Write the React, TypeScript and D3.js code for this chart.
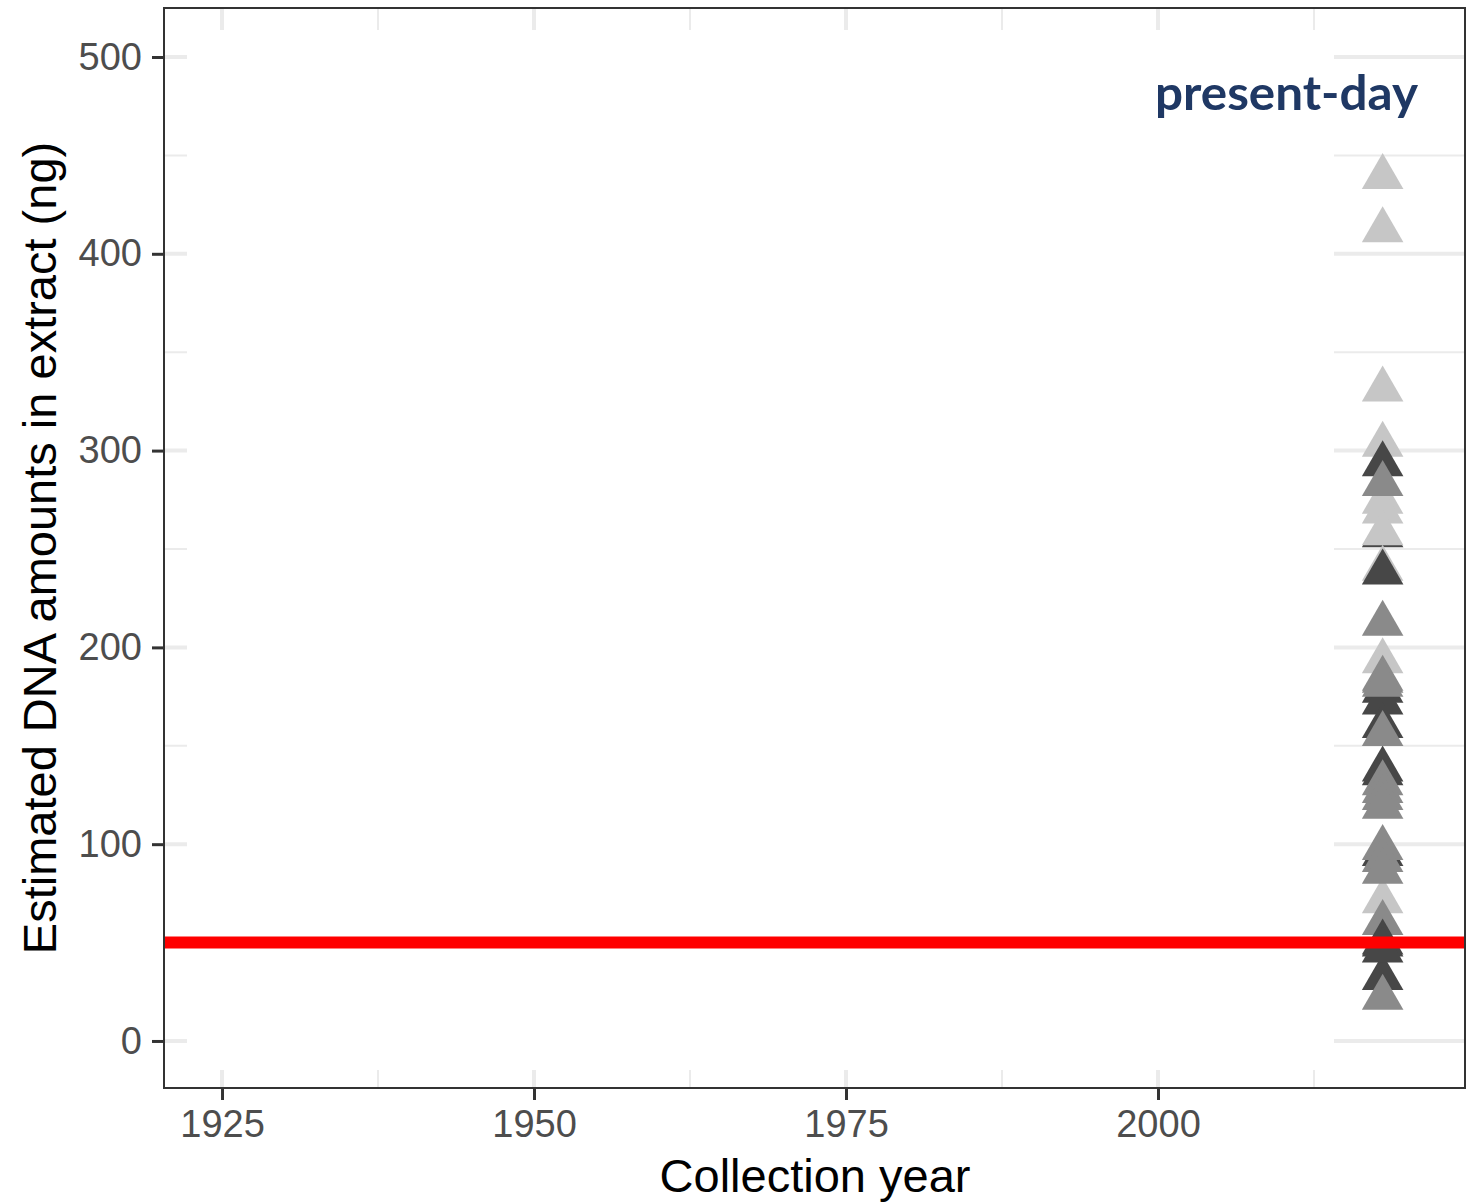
import { useEffect, useRef } from "react";
import * as d3 from "d3";

// DNA estimates (ng) for the present-day samples, listed in drawing order
const dnaAmounts = [
  257, 439, 412, 331, 303, 274, 269, 258, 240, 193, 71,
  293, 238, 178, 172, 160, 138, 136, 95, 32,
  283, 212, 184, 183, 181, 156, 131, 127, 123.5, 119, 98, 92, 86, 60, 22,
  50, 49, 46,
];
const sampleGroup = [
  "dark", "light", "light", "light", "light", "light", "light", "light", "light", "light", "light",
  "dark", "dark", "dark", "dark", "dark", "dark", "dark", "dark", "dark",
  "medium", "medium", "medium", "medium", "medium", "medium", "medium", "medium", "medium", "medium", "medium", "medium", "medium", "medium", "medium",
  "dark", "dark", "dark",
];
const collectionYear = 2018;
const thresholdNg = 50;
const xTicks = [1925, 1950, 1975, 2000];
const xMinorTicks = [1937.5, 1962.5, 1987.5, 2012.5];
const yTicks = [0, 100, 200, 300, 400, 500];
const yMinorTicks = [50, 150, 250, 350, 450];

const groupColors = { light: "#c6c6c6", medium: "#8a8a8a", dark: "#474747" };

const App = () => {
  const ref = useRef(null);

  useEffect(() => {
    const svg = d3.select(ref.current);
    svg.selectAll("*").remove();

    const left = 164, right = 1465, top = 8, bottom = 1088;
    const x = d3.scaleLinear().domain([1920.35, 2024.6]).range([left, right]);
    const y = d3.scaleLinear().domain([-23.9, 524.9]).range([bottom, top]);

    svg.append("rect")
      .attr("x", left).attr("y", top)
      .attr("width", right - left).attr("height", bottom - top)
      .attr("fill", "white");

    // grid
    const grid = svg.append("g");
    grid.selectAll("line.ymin").data(yMinorTicks).enter().append("line")
      .attr("x1", left).attr("x2", right)
      .attr("y1", (d) => y(d)).attr("y2", (d) => y(d))
      .attr("stroke", "#ebebeb").attr("stroke-width", 2);
    grid.selectAll("line.ymaj").data(yTicks).enter().append("line")
      .attr("x1", left).attr("x2", right)
      .attr("y1", (d) => y(d)).attr("y2", (d) => y(d))
      .attr("stroke", "#ebebeb").attr("stroke-width", 4);
    grid.selectAll("line.xmin").data(xMinorTicks).enter().append("line")
      .attr("y1", top).attr("y2", bottom)
      .attr("x1", (d) => x(d)).attr("x2", (d) => x(d))
      .attr("stroke", "#ebebeb").attr("stroke-width", 2);
    grid.selectAll("line.xmaj").data(xTicks).enter().append("line")
      .attr("y1", top).attr("y2", bottom)
      .attr("x1", (d) => x(d)).attr("x2", (d) => x(d))
      .attr("stroke", "#ebebeb").attr("stroke-width", 4);

    // the middle of the panel is blanked out
    svg.append("rect")
      .attr("x", 187).attr("y", 30)
      .attr("width", 1334 - 187).attr("height", 1070 - 30)
      .attr("fill", "white");

    // points
    const tri = d3.symbol(d3.symbolTriangle, 748);
    svg.append("g")
      .selectAll("path")
      .data(dnaAmounts)
      .enter()
      .append("path")
        .attr("d", tri)
        .attr("transform", (d) => `translate(${x(collectionYear)},${y(d)})`)
        .attr("fill", (d, i) => groupColors[sampleGroup[i]]);

    // threshold line
    svg.append("line")
      .attr("x1", left).attr("x2", right)
      .attr("y1", y(thresholdNg)).attr("y2", y(thresholdNg))
      .attr("stroke", "#ff0000").attr("stroke-width", 12);

    // panel border
    svg.append("rect")
      .attr("x", left).attr("y", top)
      .attr("width", right - left).attr("height", bottom - top)
      .attr("fill", "none").attr("stroke", "#333333").attr("stroke-width", 2);

    const fontFamily = "'Liberation Sans', Arial, sans-serif";

    const yAxis = svg.append("g")
      .attr("transform", `translate(${left},0)`)
      .call(d3.axisLeft(y).tickValues(yTicks).tickSize(12).tickPadding(10));
    const xAxis = svg.append("g")
      .attr("transform", `translate(0,${bottom})`)
      .call(d3.axisBottom(x).tickValues(xTicks).tickFormat(d3.format("d")).tickSize(12).tickPadding(10));
    [yAxis, xAxis].forEach((ax) => {
      ax.select(".domain").remove();
      ax.selectAll(".tick line").attr("stroke", "#333333").attr("stroke-width", 3);
      ax.selectAll(".tick text")
        .attr("fill", "#4d4d4d")
        .style("font-family", fontFamily)
        .style("font-size", "38px");
    });

    svg.append("text")
      .attr("x", 815).attr("y", 1192)
      .attr("text-anchor", "middle")
      .style("font-family", fontFamily)
      .style("font-size", "47px")
      .attr("fill", "black")
      .text("Collection year");

    svg.append("text")
      .attr("transform", "translate(56,548) rotate(-90)")
      .attr("text-anchor", "middle")
      .style("font-family", fontFamily)
      .style("font-size", "47px")
      .attr("fill", "black")
      .text("Estimated DNA amounts in extract (ng)");

    svg.append("text")
      .attr("x", 1155).attr("y", 110)
      .attr("textLength", 263)
      .attr("lengthAdjust", "spacingAndGlyphs")
      .style("font-family", "Lato, 'Open Sans', sans-serif")
      .style("font-weight", "bold")
      .style("font-size", "48px")
      .attr("fill", "#1f3864")
      .text("present-day");
  });

  return (
    <svg
      ref={ref}
      width={1466}
      height={1202}
      style={{ position: "absolute", left: 0, top: 0, background: "white" }}
    />
  );
};

export default App;
